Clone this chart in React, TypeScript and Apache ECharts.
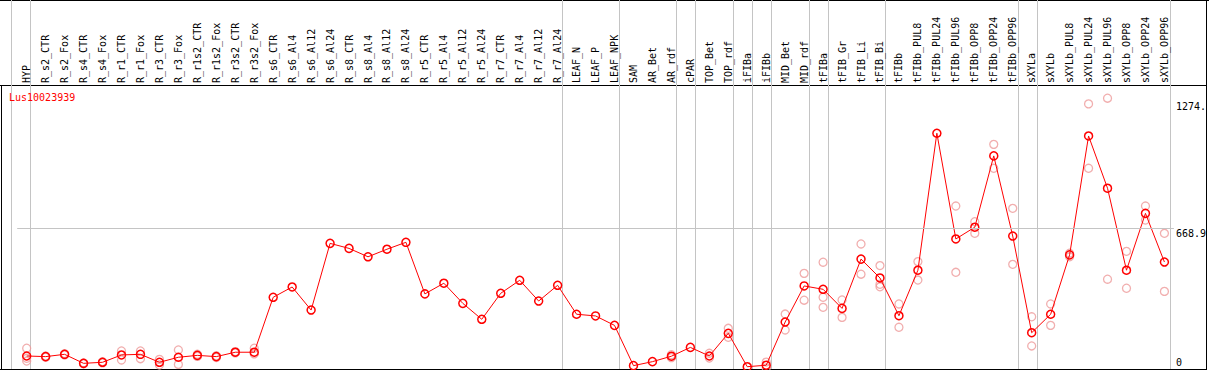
import React, { useEffect, useRef } from 'react';
import * as echarts from 'echarts';

const geneName = 'Lus10023939';

const categories = [
  'HYP', 'R_s2_CTR', 'R_s2_Fox', 'R_s4_CTR', 'R_s4_Fox', 'R_r1_CTR', 'R_r1_Fox', 'R_r3_CTR', 'R_r3_Fox',
  'R_r1s2_CTR', 'R_r1s2_Fox', 'R_r3s2_CTR', 'R_r3s2_Fox', 'R_s6_CTR', 'R_s6_Al4', 'R_s6_Al12', 'R_s6_Al24',
  'R_s8_CTR', 'R_s8_Al4', 'R_s8_Al12', 'R_s8_Al24', 'R_r5_CTR', 'R_r5_Al4', 'R_r5_Al12', 'R_r5_Al24',
  'R_r7_CTR', 'R_r7_Al4', 'R_r7_Al12', 'R_r7_Al24', 'LEAF_N', 'LEAF_P', 'LEAF_NPK', 'SAM', 'AR_Bet', 'AR_rdf',
  'cPAR', 'TOP_Bet', 'TOP_rdf', 'iFIBa', 'iFIBb', 'MID_Bet', 'MID_rdf', 'tFIBa', 'tFIB_Gr', 'tFIB_Li', 'tFIB_Bi',
  'tFIBb', 'tFIBb_PUL8', 'tFIBb_PUL24', 'tFIBb_PUL96', 'tFIBb_OPP8', 'tFIBb_OPP24', 'tFIBb_OPP96',
  'sXYLa', 'sXYLb', 'sXYLb_PUL8', 'sXYLb_PUL24', 'sXYLb_PUL96', 'sXYLb_OPP8', 'sXYLb_OPP24', 'sXYLb_OPP96',
];

const meanValues = [
  62, 59, 70, 27, 32, 67, 70, 32, 56, 65, 59, 80, 80,
  342, 391, 281, 599, 575, 535, 571, 604, 358, 409, 313, 237, 361, 423, 324, 399,
  261, 253, 208, 16, 35, 61, 103, 62, 170, 11, 18, 224, 396,
  380, 289, 524, 434, 254, 471, 1124, 620, 676, 1016, 634,
  173, 261, 544, 1111, 862, 471, 742, 510,
];

const replicates: number[][] = [
  [99, 51, 38], [62, 56], [73, 67], [29, 25], [35, 29], [86, 43], [86, 49], [46, 19], [91, 22],
  [70, 60], [63, 55], [83, 77], [99, 72],
  [], [], [], [], [], [], [], [], [], [], [], [], [], [], [], [],
  [], [], [], [], [], [54, 68], [], [75, 52], [194, 151], [], [33, 5], [262, 186], [456, 328],
  [509, 342, 294], [329, 246], [596, 452], [493, 404, 392], [310, 199], [512, 424], [], [777, 461],
  [702, 647], [1071, 957], [766, 499],
  [249, 110], [310, 208], [552, 535], [1264, 957], [1291, 428], [561, 385], [777, 710], [647, 370],
];

// index of the first category of each group (a grey separator is drawn at its left edge)
const groupStarts = [0, 1, 29, 32, 35, 36, 38, 39, 40, 42, 43, 46, 53, 54, 61];

const yTickValues = [0, 668.9, 1274];
const yTickLabels = ['0', '668.9', '1274.'];
const gridLineValue = 668.9;
const yMax = 1354;

const FONT = 'DejaVu Sans Mono';

export default function App() {
  const ref = useRef<HTMLDivElement>(null);

  useEffect(() => {
    if (!ref.current) return;
    const chart = echarts.init(ref.current, undefined, { renderer: 'svg' });

    const repData: [number, number][] = [];
    replicates.forEach((arr, i) => arr.forEach((v) => repData.push([i, v])));

    const labelFor = (v: number) => {
      let best = 0;
      yTickValues.forEach((t, i) => {
        if (Math.abs(t - v) < Math.abs(yTickValues[best] - v)) best = i;
      });
      return best;
    };

    const option: any = {
      animation: false,
      title: {
        text: geneName,
        left: 9,
        top: 92,
        padding: 0,
        textStyle: { color: '#ff0000', fontSize: 10, fontFamily: FONT, fontWeight: 'normal' },
      },
      grid: [
        { left: 17.2, width: 1159, top: 85, height: 284 },
        { left: 11.7, width: 1159, top: 0, height: 369 },
      ],
      xAxis: [
        {
          type: 'category',
          gridIndex: 0,
          data: categories,
          position: 'top',
          boundaryGap: true,
          axisLine: { show: false },
          axisTick: { show: false },
          splitLine: { show: false },
          axisLabel: {
            rotate: 90,
            interval: 0,
            margin: 2,
            fontFamily: FONT,
            fontSize: 10,
            color: '#000',
          },
        },
        {
          type: 'category',
          gridIndex: 1,
          data: categories,
          boundaryGap: true,
          axisLine: { show: false },
          axisTick: { show: false },
          axisLabel: { show: false },
          splitLine: {
            show: true,
            interval: (i: number) => groupStarts.includes(i),
            lineStyle: { color: '#c4c4c4', width: 1 },
          },
        },
      ],
      yAxis: [
        {
          type: 'value',
          gridIndex: 0,
          min: 0,
          max: yMax,
          position: 'right',
          splitLine: { show: false },
          axisLine: { show: false },
          axisTick: { show: false },
          axisLabel: {
            customValues: yTickValues,
            margin: 2,
            align: 'left',
            fontFamily: FONT,
            fontSize: 10,
            color: '#000',
            formatter: (v: number) => {
              const i = labelFor(v);
              return yTickValues[i] === 0 ? `{z|${yTickLabels[i]}}` : `{d|${yTickLabels[i]}}`;
            },
            rich: {
              d: { padding: [9, 0, 0, 0], fontFamily: FONT, fontSize: 10, color: '#000' },
              z: { padding: [0, 0, 14, 0], fontFamily: FONT, fontSize: 10, color: '#000' },
            },
          },
        },
        { type: 'value', gridIndex: 1, show: false },
      ],
      series: [
        {
          type: 'scatter',
          xAxisIndex: 0,
          yAxisIndex: 0,
          data: repData,
          symbol: 'circle',
          symbolSize: 8,
          z: 2,
          itemStyle: { color: 'transparent', borderColor: '#ee9a9a', borderWidth: 1.3 },
          emphasis: { disabled: true },
          markLine: {
            silent: true,
            symbol: 'none',
            label: { show: false },
            lineStyle: { color: '#c4c4c4', type: 'solid', width: 1 },
            data: [{ yAxis: gridLineValue }],
          },
        },
        {
          type: 'line',
          xAxisIndex: 0,
          yAxisIndex: 0,
          data: meanValues,
          symbol: 'circle',
          symbolSize: 8,
          z: 3,
          lineStyle: { color: '#ff0000', width: 1 },
          itemStyle: { color: 'transparent', borderColor: '#ff0000', borderWidth: 1.5 },
          emphasis: { disabled: true },
        },
      ],
      graphic: [
        { type: 'line', shape: { x1: 0, y1: 0.5, x2: 1209, y2: 0.5 }, style: { stroke: '#000', lineWidth: 1 } },
        { type: 'line', shape: { x1: 0, y1: 85.5, x2: 1207, y2: 85.5 }, style: { stroke: '#000', lineWidth: 1 } },
        { type: 'line', shape: { x1: 1.5, y1: 85, x2: 1.5, y2: 370 }, style: { stroke: '#000', lineWidth: 1 } },
        { type: 'line', shape: { x1: 1206.5, y1: 0, x2: 1206.5, y2: 370 }, style: { stroke: '#000', lineWidth: 1 } },
        { type: 'line', shape: { x1: 0, y1: 369.5, x2: 1207, y2: 369.5 }, style: { stroke: '#000', lineWidth: 1 } },
      ],
    };

    chart.setOption(option);
    return () => chart.dispose();
  }, []);

  return (
    <div
      ref={ref}
      style={{ position: 'absolute', left: 0, top: 0, width: 1209, height: 370, background: '#fff' }}
    />
  );
}
